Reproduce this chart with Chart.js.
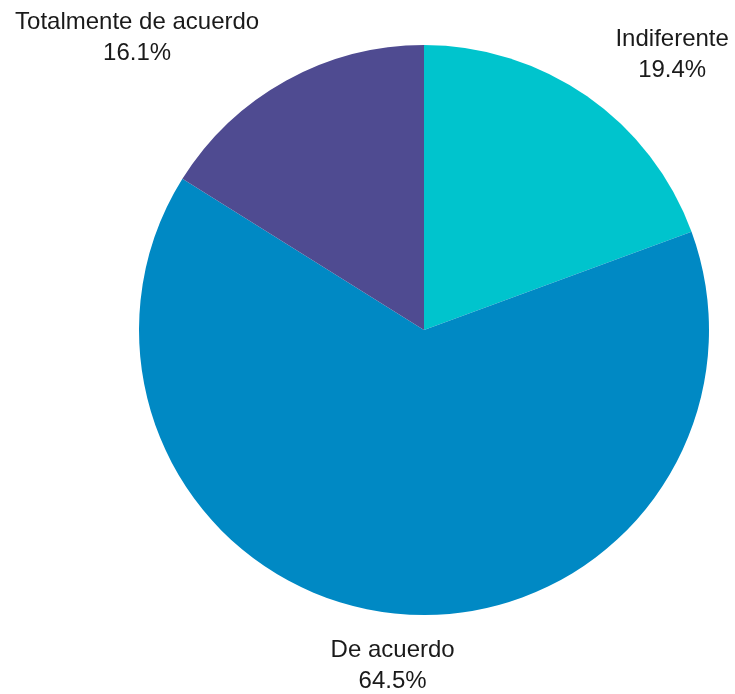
<!DOCTYPE html>
<html>
<head>
<meta charset="utf-8">
<script src="https://cdn.jsdelivr.net/npm/chart.js@4"></script>
<style>
  html, body { margin: 0; padding: 0; background: #fff; }
  #wrap { width: 735px; height: 694px; }
</style>
</head>
<body>
<div id="wrap"><canvas id="pieChart"></canvas></div>
<script>
const categories = ["Indiferente", "De acuerdo", "Totalmente de acuerdo"];
const shares = [19.4, 64.5, 16.1];
const colors = ["#00C4CD", "#0089C4", "#4F4B91"];

// draws "name / value%" outside each slice, anchored just past the rim
const outsideLabels = {
  id: "outsideLabels",
  afterDatasetsDraw(chart) {
    const ctx = chart.ctx;
    const arcs = chart.getDatasetMeta(0).data;
    ctx.save();
    ctx.font = "24px 'Liberation Sans', Arial, sans-serif";
    ctx.fillStyle = "#1a1a1a";
    ctx.textAlign = "center";
    ctx.textBaseline = "middle";
    const lineH = 31;
    arcs.forEach((arc, i) => {
      const mid = (arc.startAngle + arc.endAngle) / 2;
      const r = arc.outerRadius + 18;
      const ax = arc.x + Math.cos(mid) * r;
      const ay = arc.y + Math.sin(mid) * r;
      const lines = [categories[i], shares[i].toFixed(1) + "%"];
      const w = Math.max(...lines.map(t => ctx.measureText(t).width));
      const h = lines.length * lineH;
      const c = Math.cos(mid);
      let cx = ax;
      if (c > 0.2) cx = ax + w / 2 + 18;
      else if (c < -0.2) cx = ax - w / 2 - 18;
      const top = (Math.sin(mid) < 0 ? ay - h : ay) + 4;
      lines.forEach((t, k) => ctx.fillText(t, cx, top + lineH * k + lineH / 2));
    });
    ctx.restore();
  }
};

new Chart(document.getElementById("pieChart"), {
  type: "pie",
  data: {
    labels: categories,
    datasets: [{
      data: shares,
      backgroundColor: colors,
      borderWidth: 0
    }]
  },
  options: {
    responsive: true,
    maintainAspectRatio: false,
    animation: false,
    layout: { padding: { top: 45, bottom: 79, left: 139, right: 26 } },
    plugins: {
      legend: { display: false },
      tooltip: { enabled: false }
    }
  },
  plugins: [outsideLabels]
});
</script>
</body>
</html>
